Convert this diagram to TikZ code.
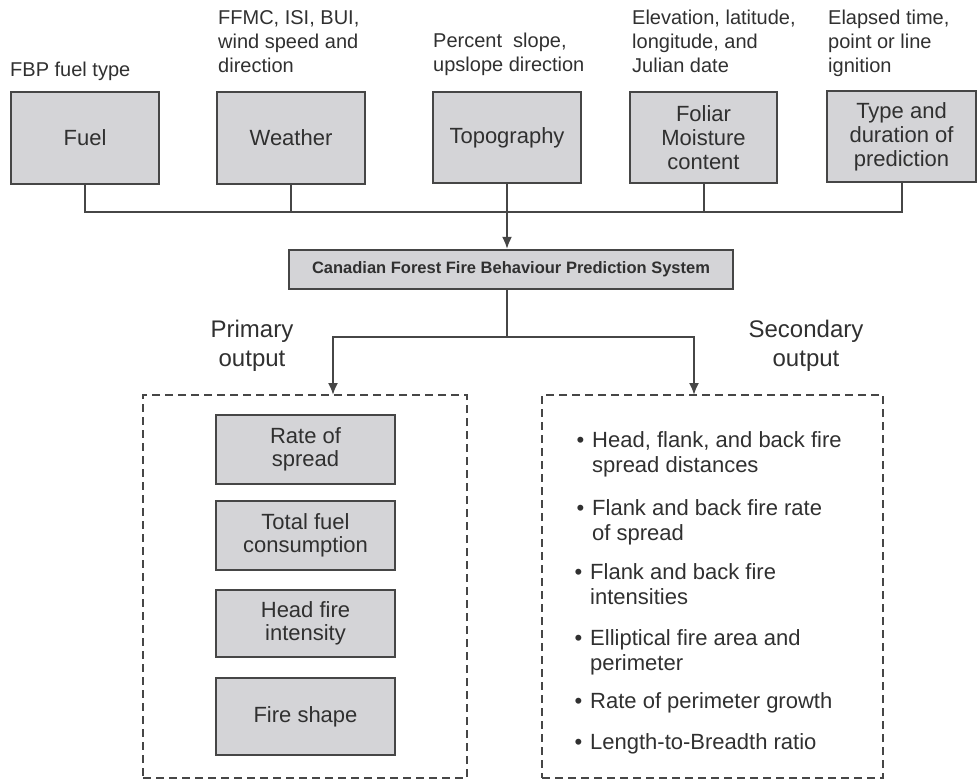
\documentclass[tikz,border=0pt]{standalone}
\usepackage{fontspec}
\setmainfont{Liberation Sans}
\usetikzlibrary{arrows.meta}
\definecolor{boxgray}{RGB}{212,212,215}
\definecolor{linegray}{RGB}{70,70,70}
\definecolor{textgray}{RGB}{48,48,48}

\begin{document}
\begin{tikzpicture}[x=1pt, y=-1pt,
			>={Latex[length=12pt,width=10pt]},   %Pfeilspitzen
			box/.style={draw=linegray, fill=boxgray, line width=2.2pt, inner sep=0pt, align=center, text=textgray, font=\fontsize{22}{24}\selectfont},
			anno/.style={anchor=north west, inner sep=0pt, align=left, text=textgray, font=\fontsize{20}{24}\selectfont},
			head/.style={inner sep=0pt, align=center, text=textgray, font=\fontsize{24}{29}\selectfont},
			item/.style={anchor=north west, inner sep=0pt, align=left, text=textgray, font=\fontsize{22}{25}\selectfont},
			outbox/.style={draw=linegray, line width=1.8pt, dash pattern=on 8pt off 5pt, inner sep=0pt},
			line/.style={draw=linegray, line width=2pt}]
			%Bildbereich
			\useasboundingbox (0,0) rectangle (979,782);
			%Eingangsgroessen
			\node[box, minimum width=148pt, minimum height=92pt] (fuel) at (85,138) {Fuel};
			\node[box, minimum width=148pt, minimum height=92pt] (weather) at (291,138) {Weather};
			\node[box, minimum width=148pt, minimum height=91pt] (topo) at (507,137.5) {Topography};
			\node[box, minimum width=147pt, minimum height=91pt] (foliar) at (703.5,137.5) {Foliar\\Moisture\\content};
			\node[box, minimum width=149pt, minimum height=91pt] (type) at (901.5,136.5) {Type and\\duration of\\prediction};
			%Beschriftung der Eingaenge
			\node[anno] (fuelnote) at (10,62) {FBP fuel type};
			\node[anno] (weathernote) at (218,10) {FFMC, ISI, BUI,\\wind speed and\\direction};
			\node[anno] (toponote) at (433,33) {Percent\ \ slope,\\upslope direction};
			\node[anno] (foliarnote) at (632,10) {Elevation, latitude,\\longitude, and\\Julian date};
			\node[anno] (typenote) at (828,10) {Elapsed time,\\point or line\\ignition};
			%FBP-System
			\node[box, minimum width=444pt, minimum height=39pt, font=\fontsize{16.5}{18}\selectfont\bfseries] (fbp) at (511,269.5) {Canadian Forest Fire Behaviour Prediction System};
			%Sammelleitung
			\coordinate (bus) at (507,212);
			\draw[line] (fuel.south) |- (bus);
			\draw[line] (type.south) |- (bus);
			\draw[line] (weather.south) -- (weather.south |- bus);
			\draw[line] (foliar.south) -- (foliar.south |- bus);
			\draw[line,->] (topo.south) -- (topo.south |- fbp.north);
			%Ausgaben
			\node[head] (primlabel) at (252,346) {Primary\\output};
			\node[head] (seclabel) at (806,346) {Secondary\\output};
			\node[outbox, minimum width=324pt, minimum height=383pt] (prim) at (305,586.5) {};
			\node[outbox, minimum width=341pt, minimum height=383pt] (sec) at (712.5,586.5) {};
			\coordinate (split) at (507,337);
			\coordinate (primin) at (333,395);
			\coordinate (secin) at (694,395);
			\draw[line] (topo.south |- fbp.south) -- (split);
			\draw[line,->] (split) -| (primin);
			\draw[line,->] (split) -| (secin);
			%Primaere Ausgaben
			\node[box, minimum width=179pt, minimum height=69pt, font=\fontsize{22}{23}\selectfont] (ros) at (305.5,449.5) {Rate of\\spread};
			\node[box, minimum width=179pt, minimum height=69pt, font=\fontsize{22}{23}\selectfont] (tfc) at (305.5,535.5) {Total fuel\\consumption};
			\node[box, minimum width=179pt, minimum height=67pt, font=\fontsize{22}{23}\selectfont] (hfi) at (305.5,623.5) {Head fire\\intensity};
			\node[box, minimum width=179pt, minimum height=77pt, font=\fontsize{22}{23}\selectfont] (shape) at (305.5,716.5) {Fire shape};
			%Sekundaere Ausgaben
			\node[item] (s1) at (592,431) {\llap{•\hspace{8pt}}Head, flank, and back fire\\spread distances};
			\node[item] (s2) at (592,499) {\llap{•\hspace{8pt}}Flank and back fire rate\\of spread};
			\node[item] (s3) at (590,563) {\llap{•\hspace{8pt}}Flank and back fire\\intensities};
			\node[item] (s4) at (590,629) {\llap{•\hspace{8pt}}Elliptical fire area and\\perimeter};
			\node[item] (s5) at (590,692) {\llap{•\hspace{8pt}}Rate of perimeter growth};
			\node[item] (s6) at (590,733) {\llap{•\hspace{8pt}}Length-to-Breadth ratio};
		\end{tikzpicture}
\end{document}
